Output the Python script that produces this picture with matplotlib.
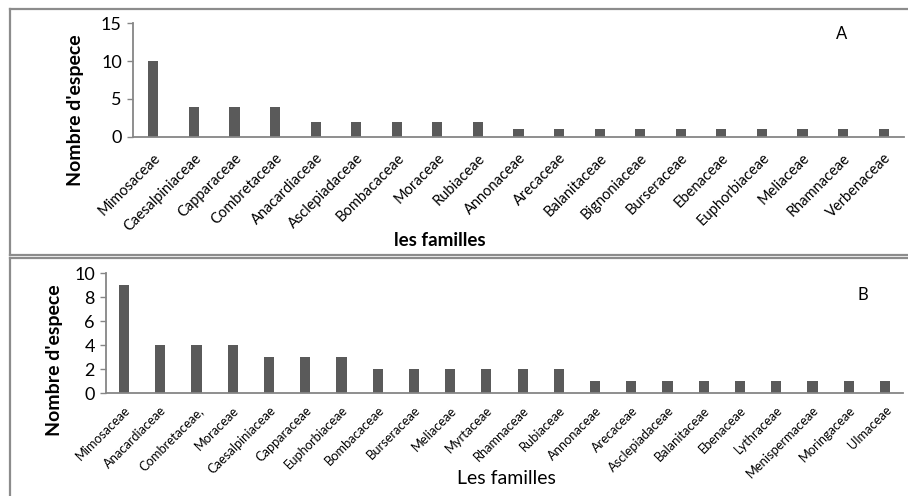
import matplotlib
matplotlib.use("Agg")
import matplotlib.pyplot as plt
from matplotlib.lines import Line2D

# ---- data, panel A
familles_a = ["Mimosaceae", "Caesalpiniaceae", "Capparaceae", "Combretaceae",
              "Anacardiaceae", "Asclepiadaceae", "Bombacaceae", "Moraceae",
              "Rubiaceae", "Annonaceae", "Arecaceae", "Balanitaceae",
              "Bignoniaceae", "Burseraceae", "Ebenaceae", "Euphorbiaceae",
              "Meliaceae", "Rhamnaceae", "Verbenaceae"]
especes_a = [10, 4, 4, 4, 2, 2, 2, 2, 2, 1, 1, 1, 1, 1, 1, 1, 1, 1, 1]
yticks_a = [0, 5, 10, 15]

# ---- data, panel B
familles_b = ["Mimosaceae", "Anacardiaceae", "Combretaceae,", "Moraceae",
              "Caesalpiniaceae", "Capparaceae", "Euphorbiaceae", "Bombacaceae",
              "Burseraceae", "Meliaceae", "Myrtaceae", "Rhamnaceae",
              "Rubiaceae", "Annonaceae", "Arecaceae", "Asclepiadaceae",
              "Balanitaceae", "Ebenaceae", "Lythraceae", "Menispermaceae",
              "Moringaceae", "Ulmaceae"]
especes_b = [9, 4, 4, 4, 3, 3, 3, 2, 2, 2, 2, 2, 2, 1, 1, 1, 1, 1, 1, 1, 1, 1]
yticks_b = [0, 2, 4, 6, 8, 10]

plt.rcParams['font.family'] = ['Lato', 'DejaVu Sans']

W, H = 908, 496
fig = plt.figure(figsize=(W / 100, H / 100), dpi=100)

BAR = '#5a5a5a'
AXC = '#868686'
FRAME = '#8c8c8c'


def px(x, y):
    return x / W, 1 - y / H


def frame_line(x0, y0, x1, y1):
    (a, b), (c, d) = px(x0, y0), px(x1, y1)
    fig.add_artist(Line2D([a, c], [b, d], color=FRAME, lw=1.6))


# panel frames
frame_line(10, 9, 908, 9)
frame_line(10, 9, 10, 255)
frame_line(10, 255, 908, 255)
frame_line(10, 258, 908, 258)
frame_line(10, 258, 10, 496)


def panel(rect, cats, vals, ticks, width, tick_fs, tick_pad, xlabel,
          xlabel_pos, xlabel_kw, ylabel_pos, letter, letter_pos):
    ax = fig.add_axes(rect)
    x = list(range(len(cats)))
    ax.bar(x, vals, width=width, color=BAR, zorder=2)
    ax.set_xlim(-0.5, len(cats) - 0.5)
    ax.set_ylim(ticks[0], ticks[-1])
    ax.set_yticks(ticks)
    ax.set_xticks(x)
    ax.set_xticklabels(cats, rotation=45, ha='right', rotation_mode='anchor',
                       fontsize=tick_fs)
    ax.tick_params(axis='x', length=0, pad=tick_pad)
    ax.tick_params(axis='y', length=4, width=1, color=AXC, labelsize=13, pad=4)
    for s in ['top', 'right']:
        ax.spines[s].set_visible(False)
    for s in ['left', 'bottom']:
        ax.spines[s].set_color(AXC)
        ax.spines[s].set_linewidth(1.3)
    yx, yy = px(*ylabel_pos)
    fig.text(yx, yy, "Nombre d'espece", rotation=90, ha='center', va='center',
             fontsize=14, fontweight='bold')
    fx, fy = px(*xlabel_pos)
    fig.text(fx, fy, xlabel, ha='center', va='center', **xlabel_kw)
    lx, ly = px(*letter_pos)
    fig.text(lx, ly, letter, ha='center', va='center', fontsize=12)
    return ax


# panel A
l, b = px(133, 137)
_, t = px(133, 23)
panel([l, b, 904 / W - l, t - b], familles_a, especes_a, yticks_a, 0.25,
      10.5, 10, 'les familles', (440, 240),
      dict(fontsize=13.5, fontweight='bold'), (75, 110), 'A', (842, 34))

# panel B
l, b = px(106, 393)
_, t = px(106, 273)
panel([l, b, 903 / W - l, t - b], familles_b, especes_b, yticks_b, 0.28,
      9.3, 8, 'Les familles', (506, 478), dict(fontsize=14),
      (55, 360), 'B', (863, 295))

fig.savefig('out.png', dpi=100)
